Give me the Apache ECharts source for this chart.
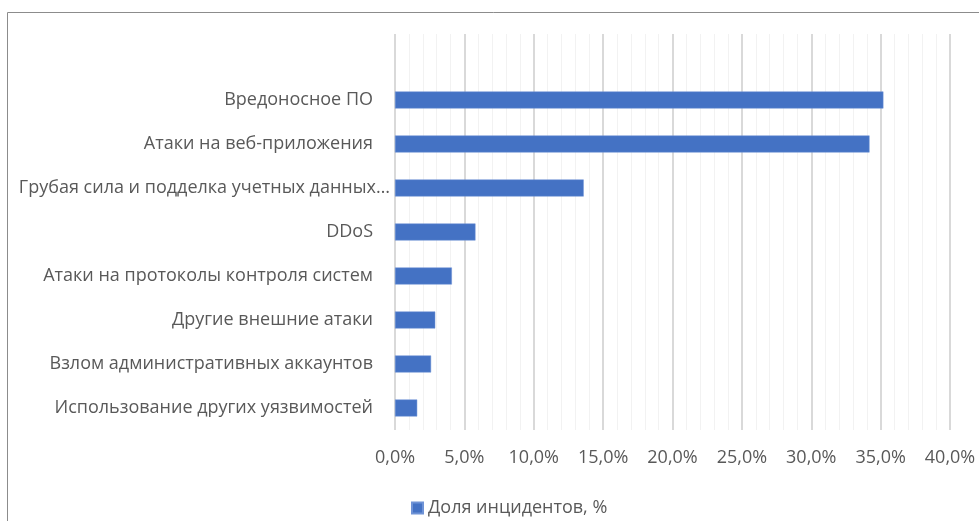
<!DOCTYPE html>
<html>
<head>
<meta charset="utf-8">
<script src="https://cdn.jsdelivr.net/npm/echarts@6/dist/echarts.min.js"></script>
<style>html,body{margin:0;padding:0;background:#fff}#c{width:979px;height:521px}</style>
</head>
<body>
<div id="c"></div>
<script>
// Data (bottom to top)
const categories = [
  "Использование других уязвимостей",
  "Взлом административных аккаунтов",
  "Другие внешние атаки",
  "Атаки на протоколы контроля систем",
  "DDoS",
  "Грубая сила и подделка учетных данных…",
  "Атаки на веб-приложения",
  "Вредоносное ПО"
];
const shareValues = [1.6, 2.6, 2.9, 4.1, 5.8, 13.6, 34.2, 35.2];
const seriesName = "Доля инцидентов, %";
const xTicks = [0, 5, 10, 15, 20, 25, 30, 35, 40];

const FONT = "'Open Sans', sans-serif";
const FS = 18;
const chart = echarts.init(document.getElementById('c'));
chart.setOption({
  backgroundColor: '#fff',
  animation: false,
  graphic: [{
    type: 'rect',
    shape: { x: 7.5, y: 12.5, width: 1000, height: 600 },
    style: { fill: 'none', stroke: '#8c8c8c', lineWidth: 1 },
    silent: true
  }],
  grid: { left: 395, right: 29, top: 34, bottom: 91, containLabel: false },
  legend: {
    data: [seriesName],
    left: 406, top: 494,
    itemWidth: 11, itemHeight: 11, itemGap: 10,
    icon: 'rect',
    textStyle: { fontFamily: FONT, fontSize: FS, color: '#595959' }
  },
  xAxis: {
    type: 'value',
    min: xTicks[0], max: xTicks[xTicks.length - 1], interval: 5,
    axisLine: { show: false },
    axisTick: { show: false },
    axisLabel: {
      margin: 19,
      fontFamily: FONT, fontSize: FS, color: '#595959',
      formatter: v => v.toFixed(1).replace('.', ',') + '%'
    },
    splitLine: { show: true, lineStyle: { color: '#d9d9d9', width: 2 } },
    minorTick: { show: false, splitNumber: 5 },
    minorSplitLine: { show: true, lineStyle: { color: '#f2f2f2', width: 1 } }
  },
  yAxis: {
    type: 'category',
    data: categories,
    max: categories.length,
    axisLine: { show: false },
    axisTick: { show: false },
    axisLabel: {
      margin: 5,
      fontFamily: FONT, fontSize: FS, color: '#595959',
      formatter: v => v.endsWith('…') ? '{e|' + v + '}' : '{n|' + v + '}',
      rich: {
        n: { fontFamily: FONT, fontSize: FS, color: '#595959', padding: [0, 17, 0, 0] },
        e: { fontFamily: FONT, fontSize: FS, color: '#595959', padding: [0, 0, 0, 0] }
      }
    }
  },
  series: [{
    name: seriesName,
    type: 'bar',
    data: shareValues,
    barWidth: 17,
    itemStyle: { color: '#4472C4', borderColor: '#6f93d6', borderWidth: 0.5 }
  }]
});
</script>
</body>
</html>
